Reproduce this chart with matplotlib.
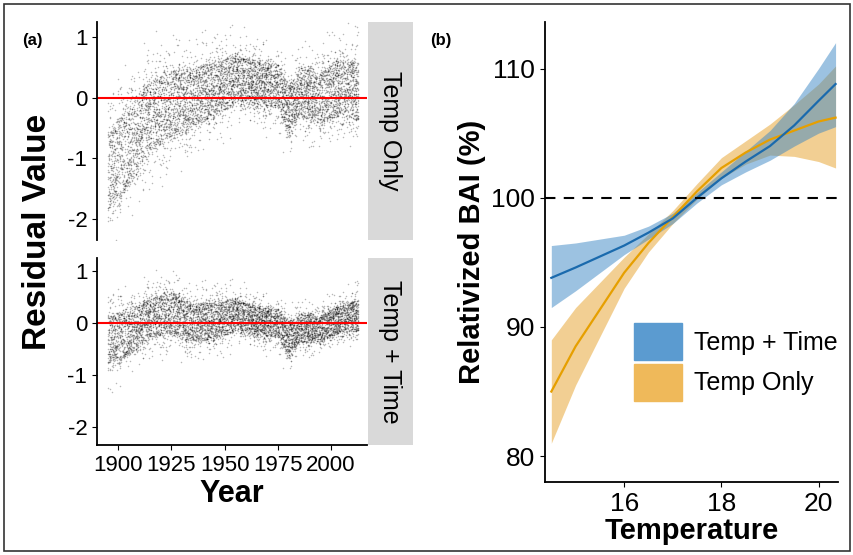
import numpy as np
import matplotlib
matplotlib.use('Agg')
import matplotlib.pyplot as plt
from matplotlib.patches import Rectangle

plt.rcParams['font.family'] = ['Liberation Sans', 'DejaVu Sans']
W, H = 854, 555

# residual cloud envelopes (centre and half-width per period)
env_years = [1895, 1905, 1915, 1925, 1935, 1945, 1955, 1965, 1975, 1980, 1985, 1995, 2005, 2013]
only_mid = [-1.2, -0.8, -0.3, -0.1, 0.0, 0.15, 0.3, 0.25, 0.2, -0.2, 0.1, 0.0, 0.2, 0.1]
only_half = [1.1, 1.1, 1.0, 0.9, 0.8, 0.75, 0.65, 0.6, 0.6, 0.65, 0.65, 0.7, 0.8, 0.8]
time_mid = [-0.3, -0.2, 0.1, 0.2, 0.0, 0.05, 0.15, 0.05, 0.0, -0.3, -0.1, -0.1, 0.1, 0.15]
time_half = [0.8, 0.7, 0.65, 0.65, 0.6, 0.6, 0.5, 0.45, 0.45, 0.55, 0.45, 0.4, 0.45, 0.5]

# relativized BAI curves
temp = [14.5, 15.0, 16.0, 16.5, 17.0, 17.5, 18.0, 18.5, 19.0, 19.5, 20.0, 20.35]
tt_fit = [93.8, 94.6, 96.3, 97.3, 98.4, 100.0, 101.5, 102.8, 104.0, 105.6, 107.5, 108.8]
tt_lo = [91.5, 92.8, 95.6, 96.8, 98.0, 99.6, 101.0, 102.0, 102.9, 104.0, 105.0, 105.5]
tt_hi = [96.3, 96.5, 97.1, 97.8, 98.8, 100.4, 102.0, 103.6, 105.2, 107.3, 110.0, 112.0]
to_fit = [85.0, 88.5, 94.2, 96.5, 98.5, 100.5, 102.3, 103.5, 104.5, 105.2, 105.9, 106.2]
to_lo = [81.0, 85.5, 93.0, 95.8, 98.0, 99.9, 101.5, 102.6, 103.3, 103.2, 102.8, 102.3]
to_hi = [89.0, 91.5, 95.4, 97.2, 99.0, 101.1, 103.1, 104.4, 105.7, 107.2, 108.8, 110.2]

def ax_px(fig, x0, y0, x1, y1):
    return fig.add_axes([x0 / W, 1 - y1 / H, (x1 - x0) / W, (y1 - y0) / H])

def frac_hash(k, a):
    s = np.sin(k * a) * 43758.5453
    return s - np.floor(s)

def cloud(mid, half, n=7000):
    k = np.arange(1, n + 1, dtype=float)
    yrs = 1895 + frac_hash(k, 12.9898) * 118
    u = frac_hash(k, 78.233) * 2 - 1
    v = frac_hash(k, 39.3468)
    c = np.interp(yrs, env_years, mid)
    h = np.interp(yrs, env_years, half)
    return yrs, c + h * u * (0.6 + 0.9 * v ** 6)

fig = plt.figure(figsize=(W / 100, H / 100), dpi=100)
fig.patches.append(Rectangle((4 / W, 4 / H), 1 - 8 / W, 1 - 8 / H, transform=fig.transFigure,
                             fill=False, ec='#333333', lw=1.2))

for i, (mid, half, lab) in enumerate([(only_mid, only_half, 'Temp Only'),
                                      (time_mid, time_half, 'Temp + Time')]):
    y0 = 22 if i == 0 else 258
    y1 = 240 if i == 0 else 445
    ax = ax_px(fig, 97, y0, 367, y1)
    x, y = cloud(mid, half)
    ax.scatter(x, y, s=1.2, c='black', alpha=0.28, lw=0)
    ax.axhline(0, color='red', lw=1.5)
    ax.set_xlim(1890, 2017)
    ax.set_ylim(-2.35, 1.25)
    ax.set_yticks([-2, -1, 0, 1])
    ax.set_yticklabels(['-2', '-1', '0', '1'], fontsize=16)
    ax.set_xticks([1900, 1925, 1950, 1975, 2000])
    for s in ['top', 'right']:
        ax.spines[s].set_visible(False)
    for s in ['left', 'bottom']:
        ax.spines[s].set_linewidth(1.3)
    if i == 0:
        ax.tick_params(axis='x', labelbottom=False, length=0)
        ax.spines['bottom'].set_visible(False)
    else:
        ax.set_xticklabels(['1900', '1925', '1950', '1975', '2000'], fontsize=16)
        ax.set_xlabel('Year', fontsize=22, fontweight='bold', labelpad=2)
    sx = ax_px(fig, 368, y0, 413, y1)
    sx.set_facecolor('#d9d9d9')
    sx.set_xticks([]); sx.set_yticks([])
    for s in sx.spines.values():
        s.set_visible(False)
    sx.text(0.5, 0.5, lab, rotation=270, ha='center', va='center', fontsize=18,
            transform=sx.transAxes)

fig.text(38 / W, 1 - 232 / H, 'Residual Value', rotation=90, ha='center', va='center',
         fontsize=24, fontweight='bold')
fig.text(22 / W, 1 - 40 / H, '(a)', fontsize=12, fontweight='bold', va='center')
fig.text(430 / W, 1 - 40 / H, '(b)', fontsize=12, fontweight='bold', va='center')

ax = ax_px(fig, 545, 22, 838, 482)
ax.fill_between(temp, to_lo, to_hi, color='#e8a93a', alpha=0.55, lw=0)
ax.fill_between(temp, tt_lo, tt_hi, color='#3b87c4', alpha=0.5, lw=0)
ax.plot(temp, to_fit, color='#e69f00', lw=1.6)
ax.plot(temp, tt_fit, color='#1a6aad', lw=1.6)
ax.axhline(100, color='black', ls=(0, (5, 4)), lw=1.5)
ax.set_xlim(14.37, 20.4)
ax.set_ylim(78, 113.6)
ax.set_xticks([16, 18, 20])
ax.set_yticks([80, 90, 100, 110])
ax.tick_params(labelsize=19)
for s in ['top', 'right']:
    ax.spines[s].set_visible(False)
for s in ['left', 'bottom']:
    ax.spines[s].set_linewidth(1.3)
ax.set_xlabel('Temperature', fontsize=21, fontweight='bold', labelpad=1)
ax.set_ylabel('Relativized BAI (%)', fontsize=21, fontweight='bold', labelpad=4)
fig.legend(handles=[Rectangle((0, 0), 1, 1, color='#5b9bd0'),
                    Rectangle((0, 0), 1, 1, color='#efb95a')],
           labels=['Temp + Time', 'Temp Only'], loc='center left',
           bbox_to_anchor=(612 / W, 1 - 362 / H), frameon=False, fontsize=18,
           handlelength=1.9, handleheight=1.9, handletextpad=0.5, labelspacing=0.15)
fig.savefig('out.png', dpi=100)
